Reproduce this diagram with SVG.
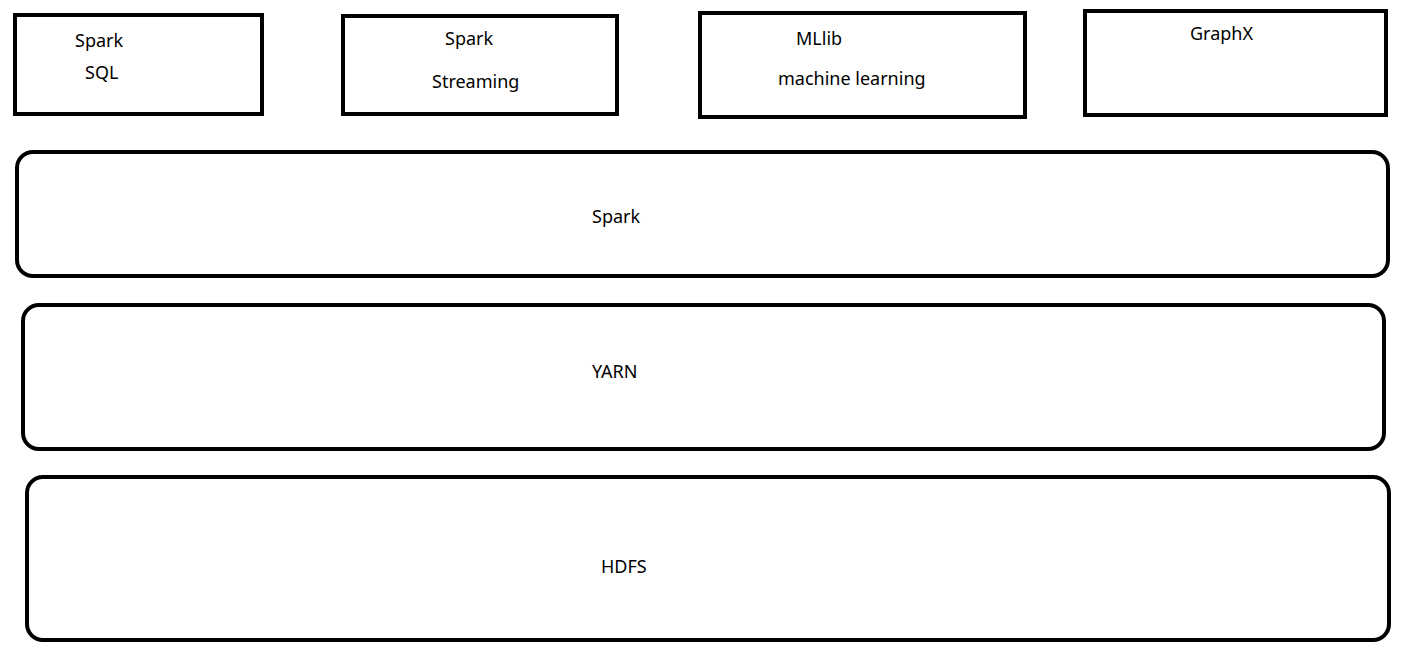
<svg xmlns="http://www.w3.org/2000/svg" width="1409" height="654" viewBox="0 0 1409 654">
<style>
.b{fill:#fff;stroke:#000;stroke-width:4}
text{font-family:"Noto Sans","DejaVu Sans",sans-serif;font-size:18px;fill:#000}
</style>
<rect width="1409" height="654" fill="#fff"/>
<g id="spark-sql"><rect class="b" x="15" y="15" width="247" height="99"/><text x="75" y="47">Spark</text><text x="85" y="79">SQL</text></g>
<g id="spark-streaming"><rect class="b" x="343" y="16" width="274" height="98"/><text x="445" y="45">Spark</text><text x="432" y="88">Streaming</text></g>
<g id="mllib"><rect class="b" x="700" y="13" width="325" height="104"/><text x="796" y="45">MLlib</text><text x="778" y="85">machine learning</text></g>
<g id="graphx"><rect class="b" x="1085" y="11" width="301" height="104"/><text x="1190" y="40">GraphX</text></g>
<g id="spark"><rect class="b" x="17" y="152" width="1371" height="124" rx="16"/><text x="592" y="223">Spark</text></g>
<g id="yarn"><rect class="b" x="23" y="305" width="1361" height="144" rx="16"/><text x="592" y="378">YARN</text></g>
<g id="hdfs"><rect class="b" x="27" y="477" width="1362" height="163" rx="16"/><text x="601" y="573">HDFS</text></g>
<g id="connectors"/>
</svg>
